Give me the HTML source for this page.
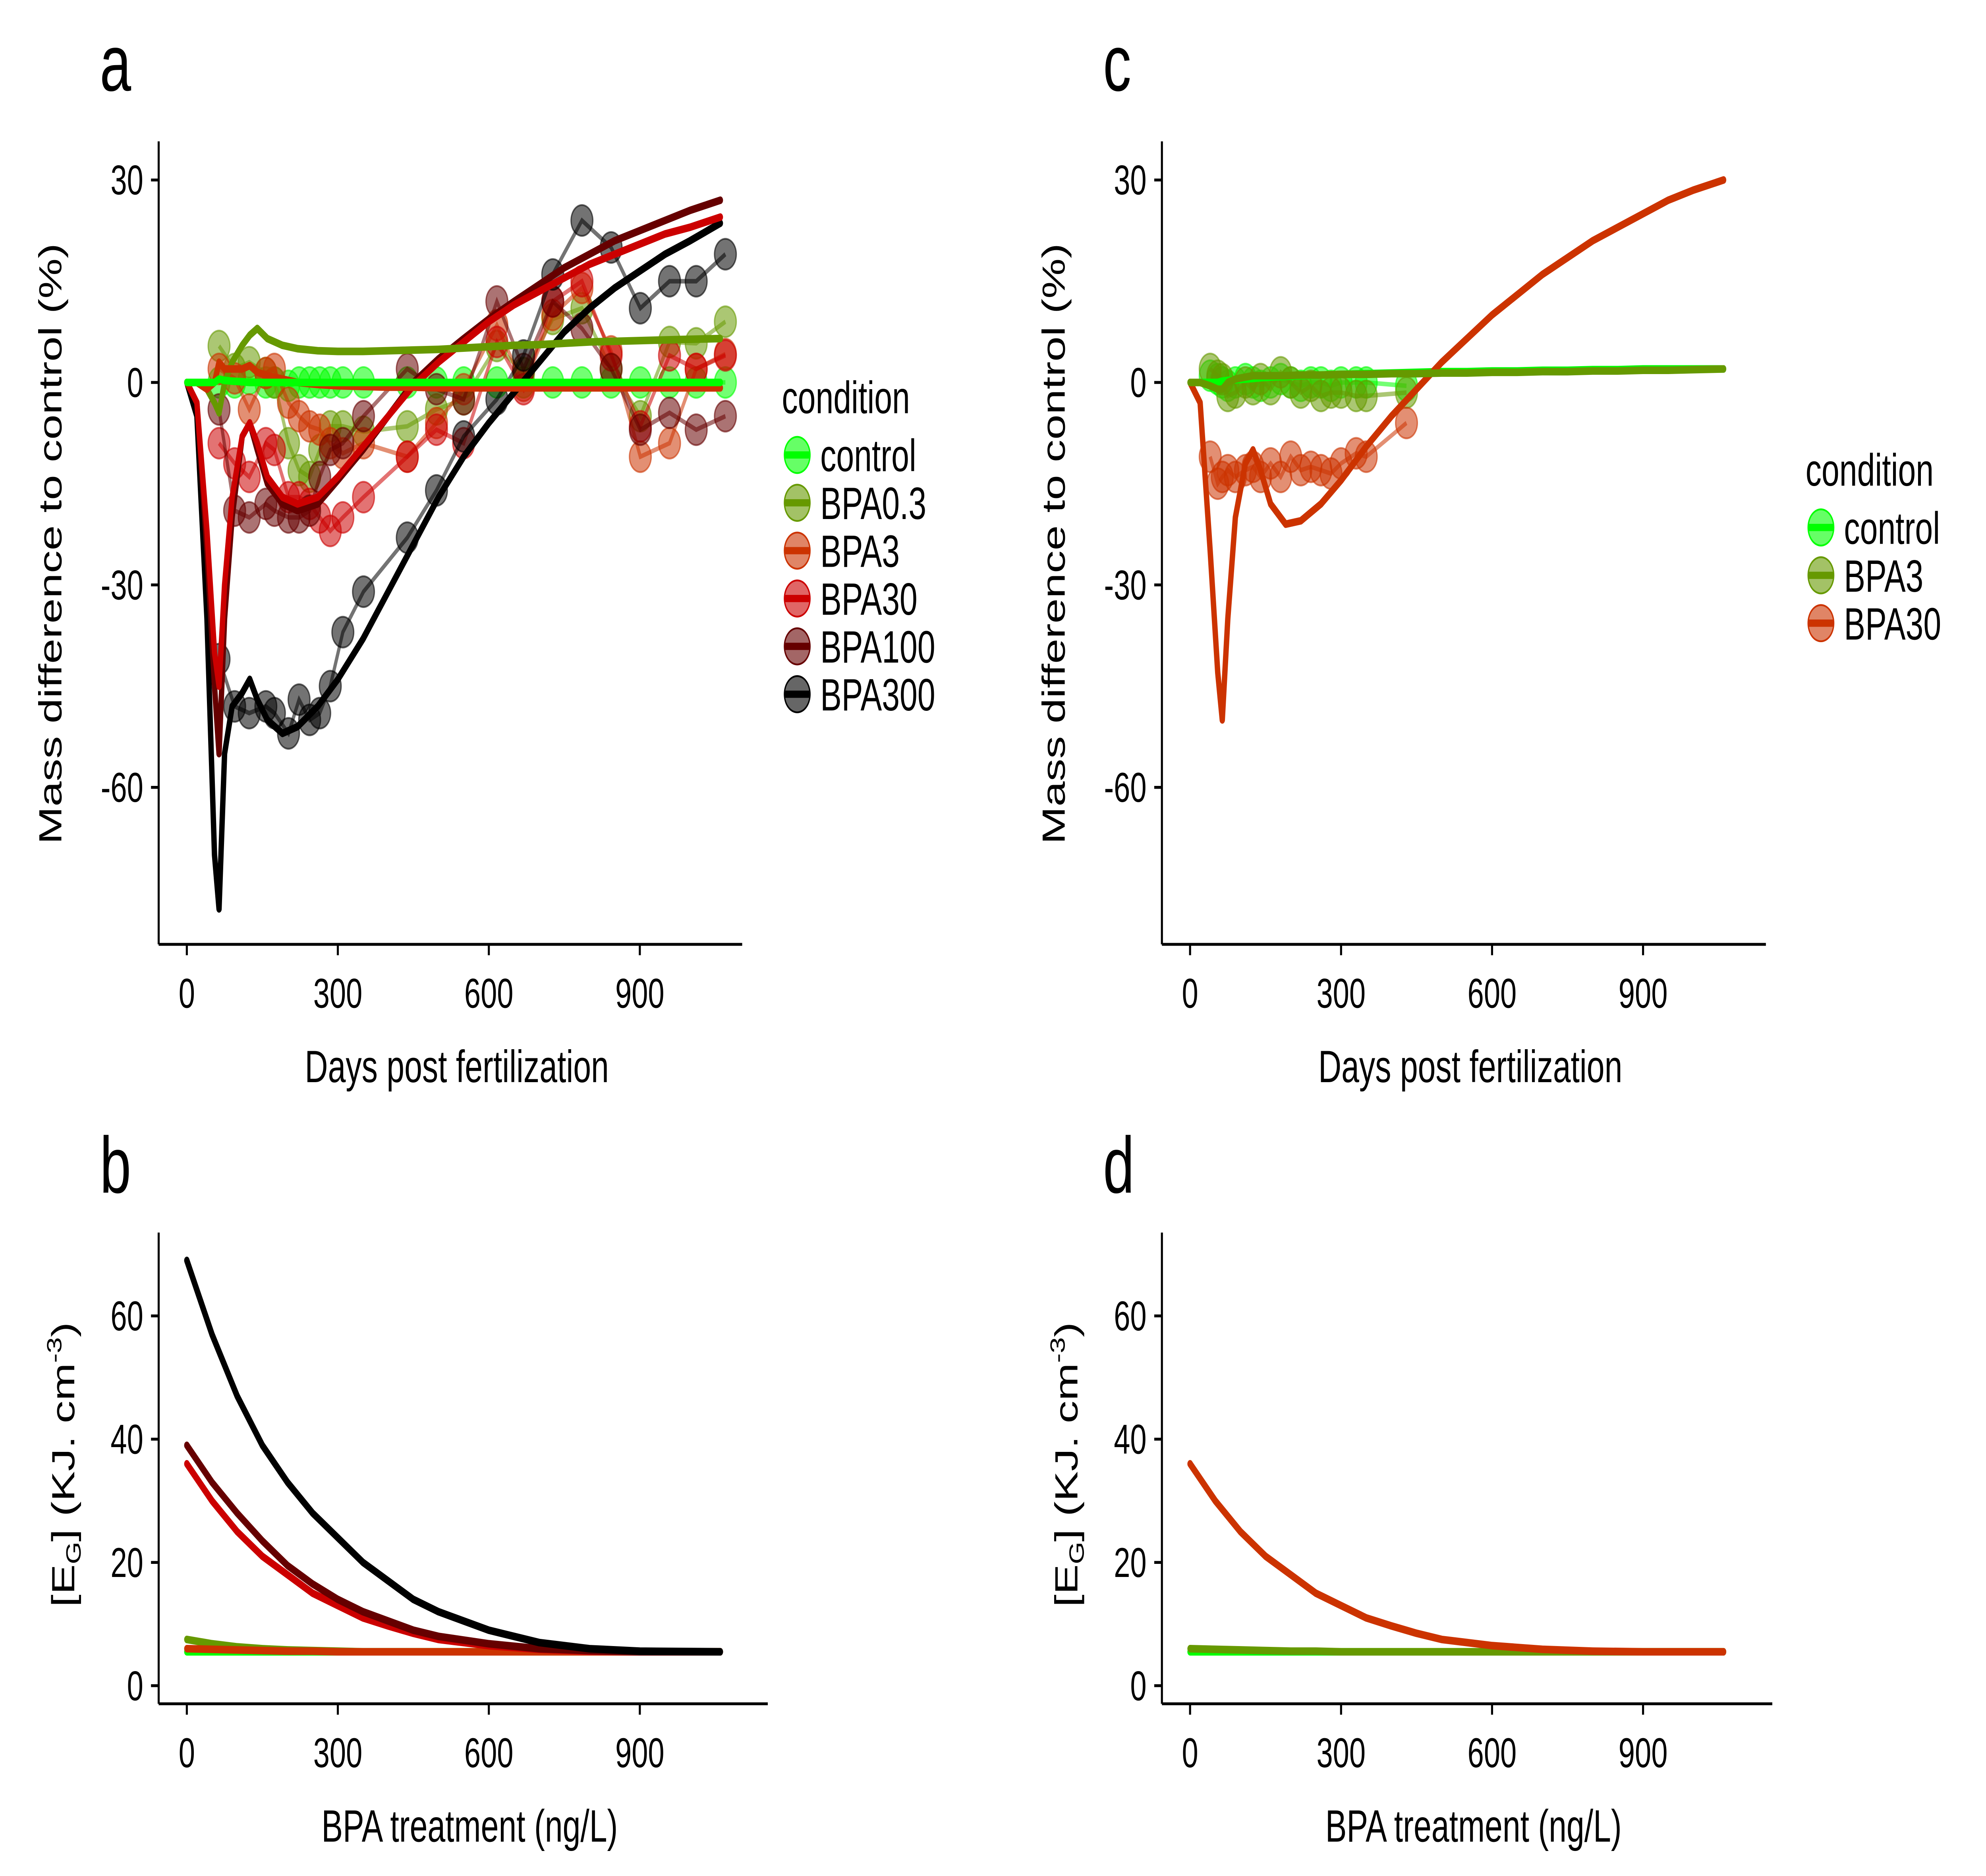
<!DOCTYPE html>
<html><head><meta charset="utf-8"><style>
html,body{margin:0;padding:0;background:#fff;width:100%;height:100%;overflow:hidden;}
svg{display:block;position:absolute;left:0;top:0;width:100vw;height:100vh;}
text{font-family:"Liberation Sans",Arial,sans-serif;fill:#000;}
</style></head><body>
<svg id="fig" viewBox="0 0 1552 1035" preserveAspectRatio="none" xmlns="http://www.w3.org/2000/svg"></svg>
<script>
// ---------- data ----------
const condA = ["control","BPA0.3","BPA3","BPA30","BPA100","BPA300"];
const colA = ["#00ff00","#669900","#cc3300","#cc0000","#660000","#000000"];
const ptDays = [64,95,124,157,174,202,223,244,264,285,310,351,438,496,550,616,669,727,785,843,901,959,1012,1070];
const ptControl = [0,0,0.5,0,0,-0.5,0,0,0,0,0,0,0,0,0,0,0,0,0,0,0,0,0,0];
const ptBPA03 = [5.4,2,3,1.4,0,-9,-13,-14,-10,-6.5,-6.5,-7.3,-6.5,-4,-2.5,5.4,1.4,9.4,11,2,-5,6,5.8,9];
const ptBPA3 = [2,0.6,-4,1.4,2,-3,-5,-6.5,-7,-9,-10.5,-9,-11,-6,-1,8.5,-0.5,10,14,4.6,-11,-9,2,4.2];
const ptBPA30 = [-9,-12,-14,-9,-10,-17,-17,-18,-20,-22,-20,-17,-11,-7,-9,6,-1,12,15,4,-6.5,4,2,4];
const ptBPA100 = [-4,-19,-20,-18,-19,-20,-20,-19,-14,-10,-9,-5,2,-1,-2.5,12,2,12,8,2,-7,-4.5,-7,-5];
const ptBPA300 = [-41,-48,-49,-48,-49,-52,-47,-50,-49,-45,-37,-31,-23,-16,-8,-2.5,4,16,24,20,11,15,15,19];

const cvDays = [0,20,40,55,64,75,90,110,125,140,160,190,220,260,300,350,400,450,500,550,600,650,700,750,800,850,900,950,1000,1060];
const cvControl = [0,0,0,0,0.5,0.3,0.2,0.1,0,0,0,0,0,0,0,0,0,0,0,0,0,0,0,0,0,0,0,0,0,0];
const cvBPA03 = [0,0,-1,-3,-4.5,0,3,5.5,7,8,6.5,5.5,5,4.7,4.6,4.6,4.7,4.8,4.9,5.1,5.3,5.5,5.6,5.8,6,6.1,6.2,6.3,6.4,6.5];
const cvBPA3 = [0,0,-1,0,3,2,2,2,2.5,1.5,1,0.5,0,-0.3,-0.5,-0.6,-0.7,-0.7,-0.8,-0.8,-0.8,-0.8,-0.8,-0.8,-0.8,-0.8,-0.8,-0.8,-0.8,-0.8];
const cvBPA30 = [0,-3,-22,-40,-45,-30,-17,-8,-6,-9,-14,-17,-18,-17,-14,-9.5,-5,-0.5,3,6,9,11.5,13.5,15.5,17.5,19,20.5,22,23,24.5];
const cvBPA100 = [0,-3,-25,-45,-55,-35,-20,-8,-6,-10,-15,-18,-19,-18,-14.5,-10,-5,0,3.5,6.5,9.4,12,14.5,17,19,21,22.5,24,25.5,27];
const cvBPA300 = [0,-5,-35,-70,-78,-55,-48,-46,-44,-47,-50,-52,-51,-48,-44,-38,-31,-24,-17,-11,-6,-1.5,3,7.5,11,14,16.5,19,21,23.6];

const condC = ["control","BPA3","BPA30"];
const colC = ["#00ff00","#669900","#cc3300"];
const ptDaysC = [40,55,64,75,90,110,125,140,160,180,200,220,240,260,280,300,330,350,430];
const ptCControl = [1,0.5,0,-0.5,0,0.5,0,-0.5,0,0.5,0,-0.5,0,0,-0.5,0,0,0,-0.5];
const ptCBPA3 = [2,1,0.5,-2,-1.5,0,-1,0.5,-1,1.5,0,-1.5,-0.5,-2,-1.5,-1.5,-2,-2,-1.5];
const ptCBPA30 = [-11,-15,-14,-13,-14,-13,-12.5,-14,-12,-14,-11,-13,-12.5,-13,-13.5,-12,-10.5,-11,-6];
const cvCControl = [0,0,0,0,0.2,0.3,0.4,0.5,0.6,0.7,0.8,0.9,1,1.1,1.2,1.3,1.4,1.5,1.6,1.6,1.7,1.7,1.8,1.8,1.9,1.9,2,2,2,2];
const cvCBPA3 = [0,0,-0.5,-1,-1,0,0.5,0.8,1,1,1,1,1.1,1.1,1.2,1.2,1.3,1.3,1.4,1.4,1.5,1.5,1.6,1.6,1.7,1.7,1.8,1.8,1.9,2];
const cvCBPA30 = [0,-3,-25,-43,-50,-35,-20,-12,-10,-13,-18,-21,-20.5,-18,-14.5,-9.5,-5,-1,3,6.5,10,13,16,18.5,21,23,25,27,28.5,30];

const egX = [0,50,100,150,200,250,300,350,400,450,500,600,700,800,900,1060];
const egControl = [5.5,5.5,5.5,5.5,5.5,5.5,5.5,5.5,5.5,5.5,5.5,5.5,5.5,5.5,5.5,5.5];
const egBPA03 = [7.5,6.8,6.3,6,5.8,5.7,5.6,5.5,5.5,5.5,5.5,5.5,5.5,5.5,5.5,5.5];
const egBPA3 = [6,5.9,5.8,5.7,5.6,5.6,5.5,5.5,5.5,5.5,5.5,5.5,5.5,5.5,5.5,5.5];
const egBPA30 = [36,30,25,21,18,15,13,11,9.7,8.5,7.5,6.5,5.9,5.6,5.5,5.5];
const egBPA100 = [39,33,28,23.5,19.5,16.5,14,12,10.5,9,8,6.8,6,5.7,5.5,5.5];
const egBPA300 = [69,57,47,39,33,28,24,20,17,14,12,9,7,6,5.6,5.5];
const egDBPA3 = [6,5.9,5.8,5.7,5.6,5.6,5.5,5.5,5.5,5.5,5.5,5.5,5.5,5.5,5.5,5.5];
const egDBPA30 = [36,30,25,21,18,15,13,11,9.7,8.5,7.5,6.5,5.9,5.6,5.5,5.5];

const xTicks = [0,300,600,900];
const yTicksMass = [30,0,-30,-60];
const yTicksEG = [0,20,40,60];

// ---------- helpers ----------
const NS = "http://www.w3.org/2000/svg";
const svg = document.getElementById("fig");
function mk(tag, attrs, parent){
  const e = document.createElementNS(NS, tag);
  for (const k in attrs) e.setAttribute(k, attrs[k]);
  (parent||svg).appendChild(e);
  return e;
}
function txt(s, x, y, size, anchor, parent){
  const t = mk("text", {x:x, y:y, "font-size":size, "text-anchor":anchor||"start"}, parent);
  t.textContent = s;
  return t;
}
function panel(name, xLeft, x0, yTop, yBottom, xEnd, yZero, yPerUnit, yTicks, xTitle){
  const g = mk("g", {});
  
  
  const sx = d => x0 + d * (118 / 300);
  const sy = v => yZero - v * yPerUnit;
  const ax = mk("g", {stroke:"#000","stroke-width":1.6}, g);
  
  
  mk("line", {x1:xLeft, y1:yTop, x2:xLeft, y2:yBottom}, ax);
  mk("line", {x1:xLeft, y1:yBottom, x2:xEnd, y2:yBottom}, ax);
  xTicks.forEach(t => {
    mk("line", {x1:sx(t), y1:yBottom, x2:sx(t), y2:yBottom+6}, ax);
    const l = txt(String(t), sx(t), yBottom+35, 23, "middle", g);
    
    
  });
  yTicks.forEach(t => {
    mk("line", {x1:xLeft-6, y1:sy(t), x2:xLeft, y2:sy(t)}, ax);
    const l = txt(String(t), xLeft-12, sy(t)+8, 23, "end", g);
    
    
  });
  const xt = txt(xTitle, (xLeft + xEnd)/2 + 5, yBottom + 76, 25, "middle", g);
  
  
  return {g, sx, sy};
}
function curve(p, xs, ys, color, w, name){
  const d = xs.map((x,i) => (i ? "L" : "M") + p.sx(x).toFixed(2) + "," + p.sy(ys[i]).toFixed(2)).join("");
  const e = mk("path", {d:d, fill:"none", stroke:color, "stroke-width":w, "stroke-linejoin":"round", "stroke-linecap":"round"}, p.g);
  
  
}
function points(p, xs, ys, color, name){
  const g = mk("g", {}, p.g);
  
  
  const d = xs.map((x,i) => (i ? "L" : "M") + p.sx(x).toFixed(2) + "," + p.sy(ys[i]).toFixed(2)).join("");
  mk("path", {d:d, fill:"none", stroke:color, "stroke-width":2.5, "stroke-opacity":0.55}, g);
  xs.forEach((x,i) => {
    const c = mk("circle", {cx:p.sx(x), cy:p.sy(ys[i]), r:8.5, fill:color, "fill-opacity":0.55, stroke:color, "stroke-opacity":0.6, "stroke-width":1}, g);
    
    
  });
}
function legend(x, y, conds, cols, name){
  const g = mk("g", {});
  
  
  const t = txt("condition", x, y, 25, "start", g);
  
  
  conds.forEach((c,i) => {
    const cy = y + 23 + i*26.4;
    const e = mk("g", {}, g);
    
    
    mk("circle", {cx:x+12, cy:cy, r:10, fill:cols[i], "fill-opacity":0.6, stroke:cols[i], "stroke-width":1}, e);
    mk("line", {x1:x+2, y1:cy, x2:x+22, y2:cy, stroke:cols[i], "stroke-width":4}, e);
    txt(c, x+30, cy+9, 25, "start", e);
  });
}
function yTitle(x, y, s){
  const t = txt(s, 0, 0, 25, "middle");
  t.setAttribute("transform", "translate(" + x + "," + y + ") rotate(-90)");
  return t;
}
function egTitle(x, y){
  const t = mk("text", {"font-size":25, "text-anchor":"middle", transform:"translate(" + x + "," + y + ") rotate(-90)"});
  t.innerHTML = '[E<tspan font-size="16" dy="5">G</tspan><tspan dy="-5">] (KJ. cm</tspan><tspan font-size="16" dy="-10">-3</tspan><tspan dy="10">)</tspan>';
  return t;
}

// ---------- panel a ----------
const pa = panel("a", 124, 146, 78, 521, 580, 211, 111.7/30, yTicksMass, "Days post fertilization");
const ptA = [ptControl, ptBPA03, ptBPA3, ptBPA30, ptBPA100, ptBPA300];
const cvA = [cvControl, cvBPA03, cvBPA3, cvBPA30, cvBPA100, cvBPA300];
ptA.forEach((s,i) => points(pa, ptDays, s, colA[i], "points-" + condA[i]));
[5,4,3,1,2,0].forEach(i => curve(pa, cvDays, cvA[i], colA[i], 4.2, "fit-" + condA[i]));
const ya = yTitle(48, 300, "Mass difference to control (%)");


legend(611, 228, condA, colA, "legend-a");

// ---------- panel c ----------
const pc = panel("c", 908, 930, 78, 521, 1380, 211, 111.7/30, yTicksMass, "Days post fertilization");
const ptC = [ptCControl, ptCBPA3, ptCBPA30];
ptC.forEach((s,i) => points(pc, ptDaysC, s, colC[i], "points-c-" + condC[i]));
curve(pc, cvDays, cvCControl, colC[0], 4.2, "fit-c-control");
curve(pc, cvDays, cvCBPA30, colC[2], 4.2, "fit-c-BPA30");
curve(pc, cvDays, cvCBPA3, colC[1], 4.2, "fit-c-BPA3");
const yc = yTitle(832, 300, "Mass difference to control (%)");


legend(1411, 268, condC, colC, "legend-c");

// ---------- panel b ----------
const pb = panel("b", 124, 146, 680, 940, 600, 930, 68/20, yTicksEG, "BPA treatment (ng/L)");
const egB = [egControl, egBPA03, egBPA3, egBPA30, egBPA100, egBPA300];
[0,1,2,3,4,5].forEach(i => curve(pb, egX, egB[i], colA[i], 4.2, "eg-" + condA[i]));
const yb = egTitle(58, 808);



// ---------- panel d ----------
const pd = panel("d", 908, 930, 680, 940, 1385, 930, 68/20, yTicksEG, "BPA treatment (ng/L)");
curve(pd, egX, egControl, colC[0], 4.2, "eg-d-control");
curve(pd, egX, egDBPA3, colC[1], 4.2, "eg-d-BPA3");
curve(pd, egX, egDBPA30, colC[2], 4.2, "eg-d-BPA30");
const yd = egTitle(842, 808);



// ---------- panel letters ----------
[["a",78,50],["b",78,658],["c",862,50],["d",862,658]].forEach(l => {
  const t = txt(l[0], l[1], l[2], 44, "start");
  
  
});
</script>
</body></html>
